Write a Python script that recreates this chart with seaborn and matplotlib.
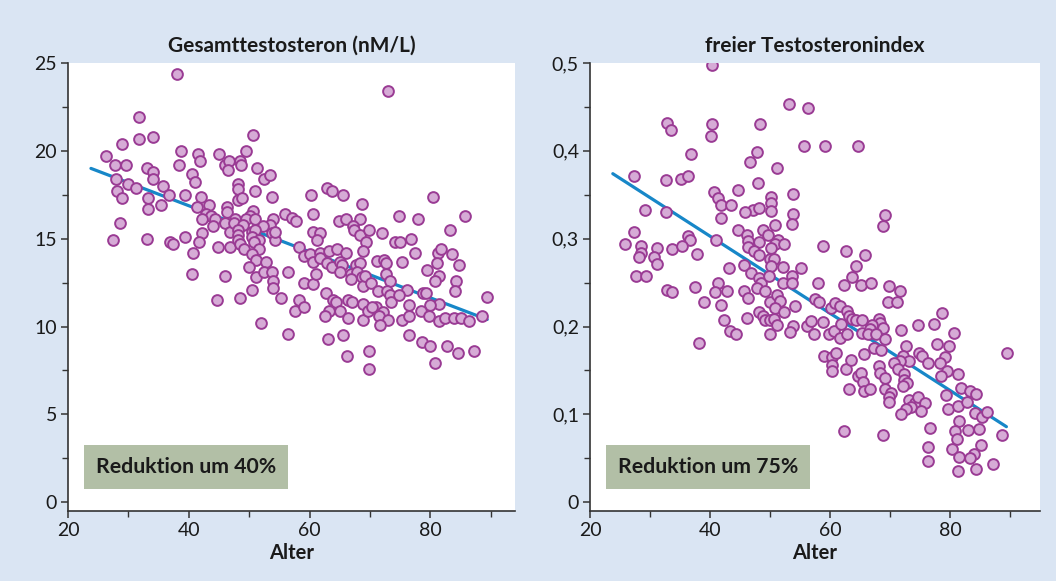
import matplotlib
matplotlib.use('Agg')
import matplotlib.pyplot as plt
import seaborn as sns
import pandas as pd
from matplotlib.ticker import MultipleLocator, FixedLocator

# ---------------- data ----------------
left_age = [38.0, 72.9, 31.8, 31.7, 34.1, 28.9, 26.3, 38.7, 41.5, 41.8, 45.0, 46.0, 46.6, 46.5,
            27.8, 29.6, 33.1, 34.0, 34.1, 38.4, 40.5, 41.0, 27.9, 29.9, 31.3, 28.1, 29.0, 35.8,
            36.7, 39.4, 42.1, 33.3, 35.4, 33.2, 41.4, 43.3, 46.4, 46.4, 42.8, 43.6, 42.2, 44.3,
            46.0, 44.0, 28.6, 27.4, 33.1, 36.9, 37.4, 39.3, 42.2, 41.7, 40.7, 46.8, 44.9, 46.9,
            40.6, 46.0, 44.6, 50.6, 49.4, 48.4, 48.7, 51.3, 52.4, 53.4, 48.2, 48.2, 51.0, 53.7,
            48.1, 48.8, 60.3, 62.8, 63.7, 65.6, 68.7, 50.6, 50.1, 49.5, 51.0, 47.7, 47.4, 48.9,
            54.0, 53.5, 52.3, 55.9, 57.1, 57.8, 60.6, 64.8, 66.0, 68.4, 67.2, 48.2, 48.2, 48.2,
            48.5, 49.1, 50.5, 50.9, 50.5, 51.6, 50.8, 51.6, 50.5, 51.2, 52.7, 49.9, 53.8, 54.2,
            54.3, 58.2, 60.6, 61.7, 61.2, 59.0, 60.0, 60.6, 61.8, 61.8, 63.2, 64.5, 66.0, 62.9,
            63.7, 65.1, 65.4, 65.0, 67.3, 68.4, 67.6, 68.4, 66.8, 67.8, 66.9, 68.7, 68.9, 51.2,
            52.4, 53.8, 54.0, 53.9, 56.4, 50.4, 48.4, 55.3, 59.1, 60.6, 61.0, 62.7, 63.8, 64.4,
            58.2, 57.5, 59.0, 63.2, 62.6, 65.1, 66.4, 67.0, 68.9, 66.4, 68.8, 52.0, 56.4, 63.1,
            65.6, 66.2, 80.5, 74.8, 78.0, 85.7, 69.9, 71.9, 69.4, 74.1, 74.9, 76.8, 83.3, 68.9,
            77.4, 81.3, 81.7, 83.5, 71.1, 72.3, 72.6, 75.3, 81.1, 84.7, 79.4, 72.6, 81.4, 80.7,
            84.3, 84.1, 69.1, 70.2, 73.3, 76.1, 71.4, 72.8, 73.3, 73.4, 74.8, 78.8, 79.3, 81.4,
            79.9, 78.5, 76.4, 89.4, 69.7, 71.0, 70.4, 72.2, 71.5, 73.0, 71.6, 75.3, 76.4, 79.8,
            81.4, 82.4, 83.9, 85.1, 86.4, 88.6, 76.4, 78.6, 80.0, 82.7, 84.6, 87.2, 69.9, 80.7,
            69.8]
left_val = [24.4, 23.4, 21.9, 20.7, 20.8, 20.4, 19.7, 20.0, 19.8, 19.4, 19.8, 19.2, 19.4, 18.9,
            19.2, 19.2, 19.0, 18.8, 18.4, 19.2, 18.7, 18.2, 18.4, 18.1, 17.9, 17.7, 17.3, 18.0,
            17.5, 17.5, 17.4, 17.3, 16.9, 16.7, 16.8, 16.9, 16.8, 16.5, 16.4, 16.3, 16.1, 16.1,
            15.9, 15.7, 15.9, 14.9, 15.0, 14.8, 14.7, 15.1, 15.3, 14.8, 14.2, 15.4, 14.5, 14.5,
            13.0, 12.9, 11.5, 20.9, 20.0, 19.4, 19.2, 19.0, 18.4, 18.6, 18.1, 17.8, 17.7, 17.4,
            17.2, 17.3, 17.5, 17.9, 17.7, 17.5, 17.0, 16.6, 16.3, 16.1, 16.1, 16.1, 15.9, 15.8,
            16.1, 15.8, 15.7, 16.4, 16.2, 16.0, 16.4, 16.0, 16.1, 16.1, 15.7, 15.5, 15.2, 14.9,
            14.7, 14.4, 15.4, 15.5, 15.1, 14.9, 14.8, 14.4, 14.1, 13.8, 13.7, 13.4, 15.3, 14.9,
            15.4, 14.5, 15.4, 15.3, 14.9, 14.0, 14.1, 13.7, 14.2, 13.9, 14.3, 14.4, 14.2, 13.6,
            13.4, 13.7, 13.5, 13.1, 15.5, 15.2, 13.5, 13.6, 13.0, 13.1, 12.7, 12.8, 12.3, 12.8,
            13.1, 13.1, 12.6, 12.2, 13.1, 12.1, 11.6, 11.6, 12.5, 12.4, 13.0, 11.9, 11.5, 11.4,
            11.5, 10.9, 11.1, 10.9, 10.6, 10.9, 11.5, 11.4, 11.3, 10.5, 10.4, 10.2, 9.6, 9.3,
            9.5, 8.3, 17.4, 16.3, 16.1, 16.3, 15.5, 15.3, 14.8, 14.8, 14.8, 15.0, 15.5, 14.3,
            14.2, 14.2, 14.4, 14.1, 13.75, 13.8, 13.6, 13.7, 13.6, 13.5, 13.2, 13.0, 12.9, 12.6,
            12.6, 12.0, 12.9, 12.5, 12.6, 12.1, 12.0, 12.0, 11.8, 11.4, 11.8, 11.9, 11.9, 11.3,
            11.2, 10.9, 11.2, 11.7, 10.9, 11.1, 11.1, 10.8, 10.6, 10.4, 10.1, 10.4, 10.6, 10.6,
            10.3, 10.5, 10.5, 10.5, 10.3, 10.6, 9.5, 9.1, 8.9, 8.9, 8.5, 8.6, 8.6, 7.9,
            7.6]

right_age = [40.4, 32.8, 33.5, 40.4, 40.1, 36.9, 27.4, 32.7, 35.1, 36.3, 40.6, 41.3, 41.8, 43.5,
             41.9, 29.1, 32.6, 27.3, 36.3, 36.7, 41.0, 25.8, 28.5, 28.5, 28.2, 31.1, 30.7, 31.2,
             33.7, 35.4, 37.9, 43.2, 27.6, 29.4, 32.8, 33.6, 37.5, 41.3, 40.9, 42.8, 39.0, 41.8,
             42.4, 43.4, 38.2, 53.2, 56.4, 48.4, 55.7, 59.1, 64.6, 47.9, 46.7, 51.1, 48.0, 44.7,
             50.1, 50.1, 50.1, 53.9, 53.9, 53.6, 47.2, 48.1, 45.8, 50.9, 44.6, 48.8, 49.6, 46.2,
             46.4, 46.4, 48.1, 47.4, 48.1, 51.4, 50.8, 52.3, 50.2, 50.0, 50.7, 50.2, 52.1, 55.2,
             58.9, 62.7, 64.3, 65.8, 45.6, 69.1, 68.8, 46.9, 48.1, 48.5, 47.9, 49.1, 49.9, 52.1,
             53.7, 53.7, 58.0, 62.4, 63.6, 65.2, 45.6, 46.3, 46.1, 50.0, 51.2, 51.7, 50.8, 52.4,
             54.1, 48.1, 48.8, 49.1, 50.0, 50.7, 51.2, 53.8, 53.4, 50.0, 44.4, 57.5, 58.2, 60.1,
             60.8, 61.7, 62.9, 63.1, 63.6, 64.4, 65.3, 56.2, 56.9, 57.4, 58.8, 59.8, 60.7, 61.6,
             61.9, 62.9, 65.4, 59.0, 60.3, 61.0, 60.4, 60.4, 62.7, 63.5, 64.7, 65.2, 65.5, 65.7,
             65.7, 63.1, 62.3, 66.8, 69.9, 71.7, 69.7, 71.1, 68.2, 68.3, 67.0, 68.8, 66.7, 66.4,
             67.7, 69.2, 71.8, 74.7, 77.4, 78.7, 80.7, 67.3, 68.5, 72.7, 72.1, 74.9, 75.4, 77.9,
             79.8, 79.2, 78.4, 76.4, 73.2, 71.7, 70.7, 71.3, 68.2, 68.4, 69.2, 72.4, 72.4, 72.8,
             72.2, 79.5, 78.5, 81.4, 66.7, 69.2, 70.2, 69.8, 69.8, 79.3, 81.8, 83.3, 84.4, 73.2,
             74.2, 74.7, 75.8, 73.5, 72.7, 71.8, 75.2, 79.7, 81.3, 82.8, 84.1, 85.4, 86.2, 89.5,
             88.6, 68.8, 76.7, 81.5, 80.8, 81.1, 83.0, 84.9, 85.2, 84.0, 83.4, 80.4, 81.5, 76.3,
             76.4, 81.4, 84.4, 87.1]
right_val = [0.498, 0.432, 0.424, 0.430, 0.417, 0.396, 0.371, 0.367, 0.368, 0.371, 0.353, 0.346,
             0.338, 0.338, 0.324, 0.333, 0.330, 0.308, 0.303, 0.299, 0.298, 0.294, 0.292, 0.284,
             0.279, 0.289, 0.279, 0.271, 0.288, 0.292, 0.283, 0.267, 0.258, 0.257, 0.242, 0.239,
             0.245, 0.249, 0.239, 0.241, 0.228, 0.224, 0.208, 0.195, 0.181, 0.453, 0.449, 0.431,
             0.405, 0.405, 0.405, 0.399, 0.387, 0.380, 0.363, 0.355, 0.348, 0.341, 0.332, 0.351,
             0.328, 0.317, 0.333, 0.335, 0.330, 0.316, 0.310, 0.310, 0.304, 0.304, 0.297, 0.290,
             0.296, 0.286, 0.281, 0.299, 0.294, 0.294, 0.289, 0.277, 0.277, 0.269, 0.268, 0.267,
             0.292, 0.286, 0.269, 0.281, 0.270, 0.327, 0.314, 0.261, 0.255, 0.250, 0.244, 0.240,
             0.257, 0.249, 0.257, 0.250, 0.250, 0.247, 0.256, 0.247, 0.241, 0.232, 0.210, 0.228,
             0.236, 0.229, 0.221, 0.217, 0.223, 0.216, 0.212, 0.208, 0.208, 0.209, 0.202, 0.201,
             0.194, 0.191, 0.191, 0.231, 0.228, 0.221, 0.227, 0.223, 0.218, 0.212, 0.209, 0.208,
             0.208, 0.201, 0.206, 0.191, 0.205, 0.191, 0.195, 0.187, 0.203, 0.192, 0.193, 0.166,
             0.165, 0.170, 0.156, 0.149, 0.152, 0.162, 0.144, 0.147, 0.137, 0.127, 0.169, 0.129,
             0.081, 0.249, 0.246, 0.240, 0.228, 0.228, 0.209, 0.204, 0.202, 0.198, 0.197, 0.191,
             0.191, 0.186, 0.196, 0.202, 0.203, 0.215, 0.193, 0.175, 0.173, 0.178, 0.167, 0.170,
             0.166, 0.180, 0.178, 0.165, 0.158, 0.158, 0.161, 0.161, 0.158, 0.152, 0.155, 0.147,
             0.141, 0.146, 0.139, 0.136, 0.132, 0.149, 0.144, 0.146, 0.129, 0.129, 0.124, 0.120,
             0.114, 0.122, 0.130, 0.127, 0.123, 0.116, 0.113, 0.120, 0.113, 0.108, 0.106, 0.100,
             0.104, 0.106, 0.110, 0.114, 0.101, 0.097, 0.103, 0.170, 0.076, 0.077, 0.085, 0.093,
             0.081, 0.072, 0.082, 0.083, 0.065, 0.055, 0.050, 0.061, 0.051, 0.063, 0.047, 0.036,
             0.038, 0.044]

# regression lines (end points)
trend_x = [23.8, 89.4]
left_trend = [19.0, 10.4]
right_trend = [0.374, 0.086]

titles = ["Gesamttestosteron (nM/L)", "freier Testosteronindex"]
notes = ["Reduktion um 40%", "Reduktion um 75%"]
x_label = "Alter"
x_ticks = [20, 40, 60, 80]
left_yticks = [0, 5, 10, 15, 20, 25]
left_ylabels = ["0", "5", "10", "15", "20", "25"]
right_yticks = [0, 0.1, 0.2, 0.3, 0.4, 0.5]
right_ylabels = ["0", "0,1", "0,2", "0,3", "0,4", "0,5"]

# ---------------- styling ----------------
sns.set_theme(style='ticks')
plt.rcParams['font.family'] = ['Lato', 'DejaVu Sans']

BG = '#dae5f3'
FACE = '#d6abd6'
EDGE = '#9a3b94'
LINE = '#1787c8'
BOX = '#b2bfa6'

fig = plt.figure(figsize=(10.56, 5.81), dpi=100, facecolor=BG)
axL = fig.add_axes([68/1056, 1-511/581, 447/1056, 448/581])
axR = fig.add_axes([590/1056, 1-511/581, 450/1056, 448/581])

dfL = pd.DataFrame({'Alter': left_age, 'Wert': left_val})
dfR = pd.DataFrame({'Alter': right_age, 'Wert': right_val})

panels = [
    (axL, dfL, left_trend, left_yticks, left_ylabels, (-0.5, 25), 2.5, (20, 94)),
    (axR, dfR, right_trend, right_yticks, right_ylabels, (-0.01, 0.5), 0.05, (20, 95)),
]

for i, (ax, df, trend, yt, yl, ylim, yminor, xlim) in enumerate(panels):
    ax.set_facecolor('white')
    sns.lineplot(x=trend_x, y=trend, color=LINE, linewidth=2.3, ax=ax, zorder=2)
    sns.scatterplot(data=df, x='Alter', y='Wert', s=60, color=FACE, edgecolor=EDGE,
                    linewidth=1.4, ax=ax, zorder=3)
    ax.set_xlim(*xlim)
    ax.set_ylim(*ylim)
    ax.set_xticks(x_ticks)
    ax.set_xticklabels([str(t) for t in x_ticks])
    ax.set_yticks(yt)
    ax.set_yticklabels(yl)
    ax.yaxis.set_minor_locator(MultipleLocator(yminor))
    ax.xaxis.set_minor_locator(FixedLocator([30, 50, 70, 90]))
    ax.tick_params(axis='both', which='major', direction='out', length=5, width=1.1,
                   color='#333333', labelsize=14, labelcolor='#1a1a1a', pad=3)
    ax.tick_params(axis='both', which='minor', direction='out', length=4, width=1.0,
                   color='#333333')
    for s in ['top', 'right']:
        ax.spines[s].set_visible(False)
    for s in ['left', 'bottom']:
        ax.spines[s].set_color('#333333')
        ax.spines[s].set_linewidth(1.2)
    ax.set_ylabel('')
    ax.set_xlabel(x_label, fontsize=14.5, fontweight='bold', color='#1a1a1a', labelpad=3)
    ax.set_title(titles[i], fontsize=15, fontweight='bold', color='#1a1a1a', pad=8)
    ax.text(0.062, 0.098, notes[i], transform=ax.transAxes, ha='left', va='center',
            fontsize=15.3, fontweight='bold', color='#1a1a1a', zorder=5,
            bbox=dict(boxstyle='square,pad=0.55', fc=BOX, ec='none'))

fig.savefig('out.png', dpi=100, facecolor=fig.get_facecolor())
